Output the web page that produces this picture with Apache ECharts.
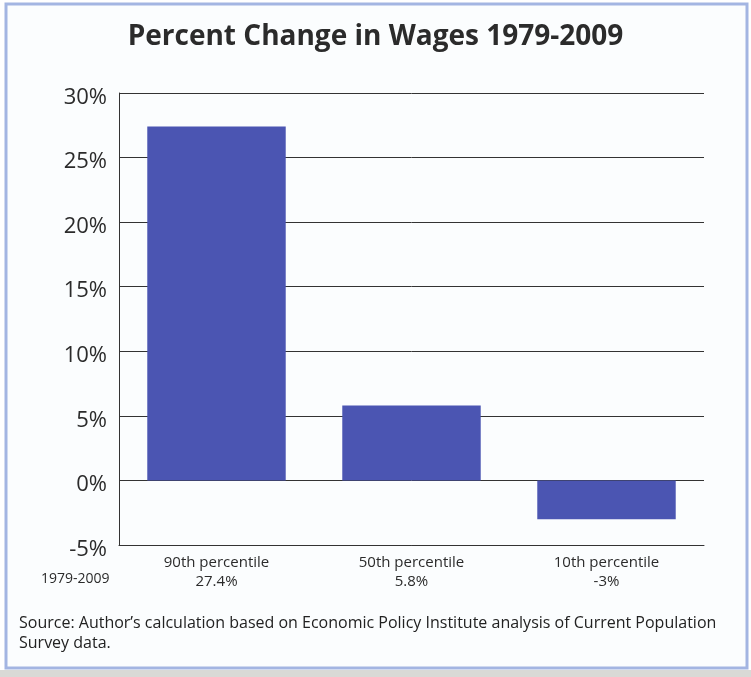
<!DOCTYPE html>
<html>
<head>
<meta charset="utf-8">
<style>
  html, body { margin: 0; padding: 0; background: #ffffff; }
  #chart { width: 751px; height: 677px; }
</style>
<script src="https://cdn.jsdelivr.net/npm/echarts@6/dist/echarts.min.js"></script>
</head>
<body>
<div id="chart"></div>
<script>
// Wage groups and their percent change over the period
var categories = ['90th percentile', '50th percentile', '10th percentile'];
var wageChange = [27.4, 5.8, -3];
var periodLabel = '1979-2009';
var yTicks = { min: -5, max: 30, step: 5 };

var titleText = 'Percent Change in Wages 1979-2009';
var sourceLines = [
  'Source: Author\u2019s calculation based on Economic Policy Institute analysis of Current Population',
  'Survey data.'
];

var FONT = '"Open Sans"';
var chart = echarts.init(document.getElementById('chart'));

function fmtPct(v) { return v + '%'; }

chart.setOption({
  animation: false,
  backgroundColor: 'transparent',
  title: {
    text: titleText,
    left: 'center',
    top: 18,
    textStyle: { fontFamily: FONT, fontSize: 28, fontWeight: 'bold', color: '#2b2b2b' }
  },
  grid: { left: 119, right: 47, top: 93, bottom: 132 },
  xAxis: {
    type: 'category',
    data: categories,
    axisLine: { onZero: false, lineStyle: { color: '#333', width: 1 } },
    axisTick: { show: false },
    axisLabel: {
      margin: 8,
      interval: 0,
      lineHeight: 19,
      fontFamily: FONT,
      fontSize: 15,
      color: '#2b2b2b',
      formatter: function (name, idx) {
        return name + '\n' + fmtPct(wageChange[idx]);
      }
    }
  },
  yAxis: {
    type: 'value',
    min: yTicks.min,
    max: yTicks.max,
    interval: yTicks.step,
    axisLine: { show: true, lineStyle: { color: '#333', width: 1 } },
    axisTick: { show: false },
    splitLine: { lineStyle: { color: '#333', width: 1 } },
    axisLabel: {
      margin: 12,
      formatter: function (v) { return '{p|' + v + '%}'; },
      rich: {
        // tick text sits a little below its gridline
        p: {
          fontFamily: FONT,
          fontSize: 22,
          color: '#2b2b2b',
          padding: [9, 0, 0, 0]
        }
      }
    }
  },
  series: [{
    type: 'bar',
    data: wageChange,
    barWidth: '71%',
    itemStyle: { color: '#4b55b2' }
  }],
  graphic: [
    {
      type: 'rect', z: -10,
      shape: { x: 6, y: 4, width: 741, height: 664 },
      style: { fill: '#fbfdfe', stroke: '#a3b5e2', lineWidth: 3 }
    },
    {
      type: 'rect', z: -10,
      shape: { x: 0, y: 670, width: 751, height: 7 },
      style: { fill: '#d9d9d6' }
    },
    {
      type: 'text',
      left: 41, top: 572,
      style: { text: periodLabel, fontFamily: FONT, fontSize: 14, fill: '#2b2b2b' }
    },
    {
      type: 'text',
      left: 19, top: 613,
      style: {
        text: sourceLines.join('\n'),
        fontFamily: FONT, fontSize: 16, lineHeight: 20, fill: '#222'
      }
    }
  ]
});
</script>
</body>
</html>
